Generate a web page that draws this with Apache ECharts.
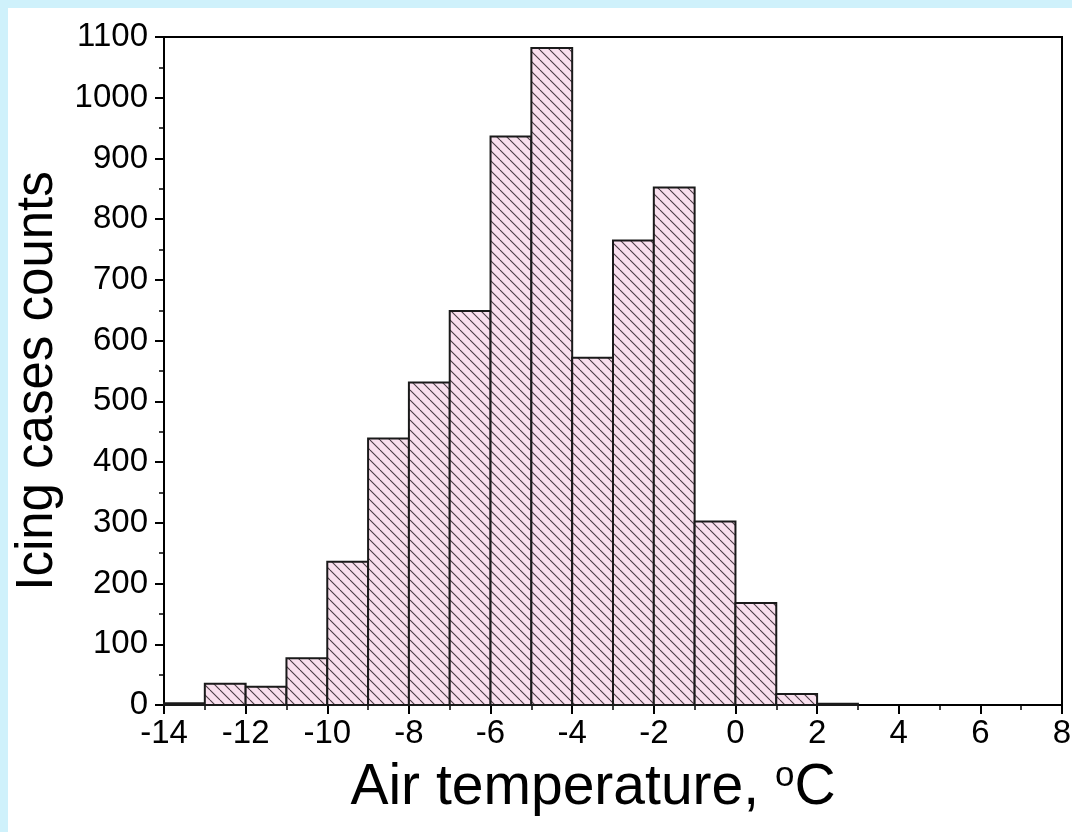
<!DOCTYPE html>
<html>
<head>
<meta charset="utf-8">
<script src="https://cdn.jsdelivr.net/npm/echarts@6/dist/echarts.min.js"></script>
<style>
  html, body { margin: 0; padding: 0; background: #cff1fb; }
  #frame { position: absolute; left: 8px; top: 8px; right: 0; bottom: 0; background: #fff; }
  #chart { position: absolute; left: 0; top: 0; width: 1072px; height: 832px; }
</style>
</head>
<body>
<div id="frame"></div>
<div id="chart"></div>
<script>
// histogram bins (deg C) and counts
const binStart = [-14, -13, -12, -11, -10, -9, -8, -7, -6, -5, -4, -3, -2, -1, 0, 1, 2];
const binEnd   = [-13, -12, -11, -10, -9, -8, -7, -6, -5, -4, -3, -2, -1, 0, 1, 2, 3];
const counts   = [3, 35, 30, 77, 236, 439, 531, 649, 936, 1082, 572, 765, 852, 302, 168, 18, 2];

// diagonal hatch tile
function hatch() {
  const s = 10;
  const c = document.createElement('canvas');
  c.width = s; c.height = s;
  const g = c.getContext('2d');
  g.fillStyle = '#f9e0ee';
  g.fillRect(0, 0, s, s);
  g.strokeStyle = '#4a3a44';
  g.lineWidth = 1.1;
  [-s, 0, s].forEach(x0 => {
    g.beginPath();
    g.moveTo(x0, 0);
    g.lineTo(x0 + s, s);
    g.stroke();
  });
  return c;
}

const pattern = { image: hatch(), repeat: 'repeat' };
const font = '"Liberation Sans", Arial, sans-serif';

const chart = echarts.init(document.getElementById('chart'));

chart.setOption({
  backgroundColor: 'transparent',
  animation: false,
  grid: {
    left: 164, right: 10, top: 37, bottom: 127,
    outerBoundsMode: 'none',
    show: true, borderColor: '#000', borderWidth: 2, backgroundColor: 'transparent'
  },
  xAxis: {
    type: 'value', min: -14, max: 8, interval: 2,
    name: 'Air temperature, {sup|o}C',
    nameLocation: 'middle', nameGap: 54,
    nameTextStyle: {
      fontFamily: font, fontSize: 57, color: '#000', padding: [0, 40, 0, 0],
      rich: { sup: { fontFamily: font, fontSize: 35, color: '#000', padding: [0, 0, 24, 0] } }
    },
    axisLine: { lineStyle: { color: '#000', width: 2 } },
    axisTick: { length: 9, lineStyle: { color: '#000', width: 2 } },
    minorTick: { show: true, splitNumber: 2, length: 5, lineStyle: { color: '#000', width: 1.5 } },
    axisLabel: { fontFamily: font, fontSize: 33, color: '#000', margin: 12 },
    splitLine: { show: false }
  },
  yAxis: {
    type: 'value', min: 0, max: 1100, interval: 100,
    name: 'Icing cases counts',
    nameLocation: 'middle', nameGap: 96,
    nameTextStyle: { fontFamily: font, fontSize: 51, color: '#000', padding: [0, 20, 0, 0] },
    axisLine: { show: true, onZero: false, lineStyle: { color: '#000', width: 2 } },
    axisTick: { show: true, length: 9, lineStyle: { color: '#000', width: 2 } },
    minorTick: { show: true, splitNumber: 2, length: 5, lineStyle: { color: '#000', width: 1.5 } },
    axisLabel: { fontFamily: font, fontSize: 33, color: '#000', margin: 16, formatter: v => String(v) },
    splitLine: { show: false }
  },
  series: [{
    type: 'custom',
    data: counts.map((v, i) => [binStart[i], binEnd[i], v]),
    encode: { x: [0, 1], y: 2 },
    renderItem: (params, api) => {
      const p0 = api.coord([api.value(0), api.value(2)]);
      const p1 = api.coord([api.value(1), 0]);
      return {
        type: 'rect',
        shape: { x: p0[0], y: p0[1], width: p1[0] - p0[0], height: p1[1] - p0[1] },
        style: { fill: pattern, stroke: '#1a1a1a', lineWidth: 2 }
      };
    }
  }]
});
</script>
</body>
</html>
